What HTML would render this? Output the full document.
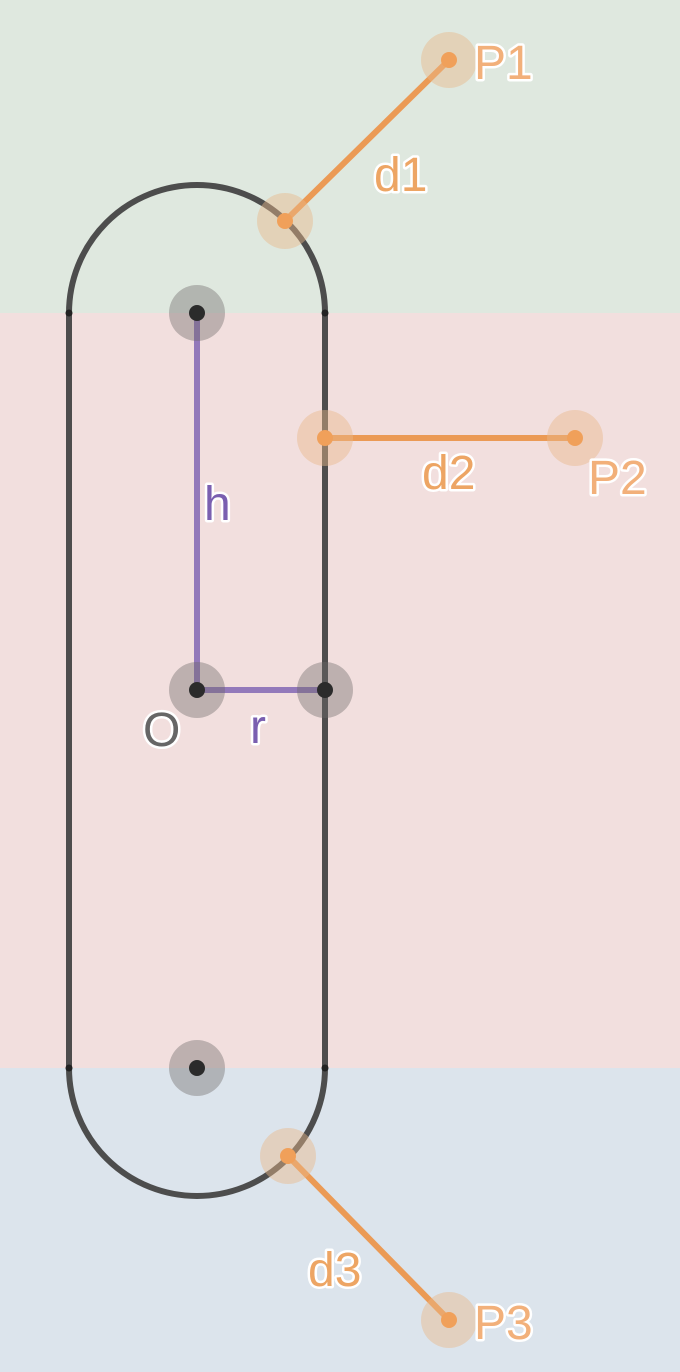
<!DOCTYPE html>
<html><head><meta charset="utf-8"><style>html,body{margin:0;padding:0}svg{display:block}
text{font-family:"Liberation Sans",sans-serif;font-size:48px;paint-order:stroke;stroke:#fff;stroke-width:5px;stroke-linejoin:round}</style></head>
<body>
<svg id="s" width="680" height="1372" viewBox="0 0 680 1372" xmlns="http://www.w3.org/2000/svg">
<rect x="0" y="0" width="680" height="313" fill="#dfe8df"/>
<rect x="0" y="313" width="680" height="755" fill="#f2dfde"/>
<rect x="0" y="1068" width="680" height="304" fill="#dce4ec"/>
<path d="M69 313 A128 128 0 0 1 325 313 L325 1068 A128 128 0 0 1 69 1068 Z" fill="none" stroke="#444" stroke-opacity="0.95" stroke-width="6"/>
<line x1="197" y1="313" x2="197" y2="690" stroke="#7a5fb0" stroke-opacity="0.8" stroke-width="6"/>
<line x1="197" y1="690" x2="325" y2="690" stroke="#7a5fb0" stroke-opacity="0.8" stroke-width="6"/>
<g id="dist"></g>
<g id="pts"></g>
<circle cx="69" cy="313" r="3.5" fill="#222"/>
<circle cx="325" cy="313" r="3.5" fill="#222"/>
<circle cx="69" cy="1068" r="3.5" fill="#222"/>
<circle cx="325" cy="1068" r="3.5" fill="#222"/>
<text x="204" y="520" fill="#7a5fb0">h</text>
<text x="250" y="743" fill="#7a5fb0">r</text>
<text x="143" y="746" fill="#666">O</text>
</svg>
<script>
const queryX=[449,575,449];
const queryY=[60,438,1320];
const nearX=[285,325,288];
const nearY=[221,438,1156];
const pLabels=["P1","P2","P3"];
const dLabels=["d1","d2","d3"];
const darkX=[197,197,325,197];
const darkY=[313,690,690,1068];
const pLabelPos=[[474,79],[588,494],[474,1339]];
const dLabelPos=[[374,191],[422,489],[308,1286]];
const NS="http://www.w3.org/2000/svg";
const dist=document.getElementById('dist'),pts=document.getElementById('pts'),svg=document.getElementById('s');
function mk(tag,attrs,parent){const e=document.createElementNS(NS,tag);for(const k in attrs)e.setAttribute(k,attrs[k]);parent.appendChild(e);return e;}
for(let i=0;i<darkX.length;i++){
  const h=mk('circle',{cx:darkX[i],cy:darkY[i],r:28,fill:'#6e6a6a','fill-opacity':0.4},pts);
  
  
  const c=mk('circle',{cx:darkX[i],cy:darkY[i],r:8,fill:'#2b2b2b'},pts);
  
  
}
for(let i=0;i<queryX.length;i++){
  const l=mk('line',{x1:nearX[i],y1:nearY[i],x2:queryX[i],y2:queryY[i],stroke:'#eb9a55','stroke-width':6},dist);
  
  
  [[queryX[i],queryY[i]],[nearX[i],nearY[i]]].forEach(p=>{
    const h=mk('circle',{cx:p[0],cy:p[1],r:28,fill:'#e8b98a','fill-opacity':0.45},pts);
    
    
    const c=mk('circle',{cx:p[0],cy:p[1],r:8,fill:'#f0a05a'},pts);
    
    
  });
  const t=mk('text',{x:pLabelPos[i][0],y:pLabelPos[i][1],fill:'#f2b07a'},svg);t.textContent=pLabels[i];
  
  
  const d=mk('text',{x:dLabelPos[i][0],y:dLabelPos[i][1],fill:'#eda564'},svg);d.textContent=dLabels[i];
  
  
}
</script>
</body></html>
